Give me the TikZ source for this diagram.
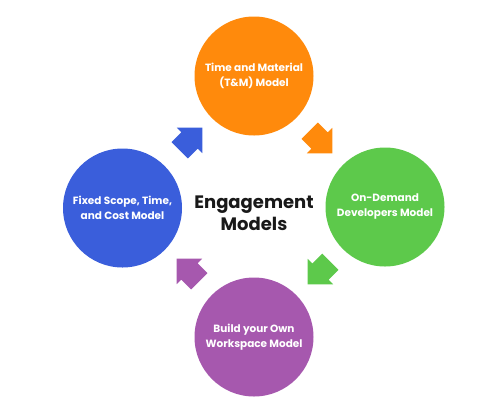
\documentclass[tikz,border=0pt]{standalone}
\usepackage{fontspec}
\setmainfont{Poppins}
\definecolor{cOrange}{HTML}{FF8A0C}
\definecolor{cGreen}{HTML}{5DC94B}
\definecolor{cBlue}{HTML}{3A5EDB}
\definecolor{cPurple}{HTML}{A658AE}
\newcommand\blockarr[4]{%
  \begin{scope}[shift={(#1,#2)},rotate=#3]
    \fill[#4] (-16,-11.5) -- (-2,-11.5) -- (-2,-18) -- (16,0) -- (-2,18) -- (-2,11.5) -- (-16,11.5) -- cycle;
  \end{scope}}
\begin{document}
\begin{tikzpicture}[x=1pt,y=-1pt,
  model/.style={circle,minimum size=119pt,inner sep=0pt,text=white,align=center,
    font=\fontsize{10.5}{15}\selectfont\bfseries},
  title/.style={align=center,font=\fontsize{18}{22}\selectfont\bfseries,text=black!90}]
\useasboundingbox (0,0) rectangle (500,400);
\node[model,fill=cOrange] (tm) at (254,76) {Time and Material\\(T\&M) Model};
\node[model,fill=cGreen] (od) at (385,207) {On-Demand\\Developers Model};
\node[model,fill=cPurple] (bw) at (254,337) {Build your Own\\Workspace Model};
\node[model,fill=cBlue] (fs) at (122.5,208) {Fixed Scope, Time,\\and Cost Model};
\node[title] (em) at (254,213) {Engagement\\Models};
\blockarr{321}{142}{-45}{cOrange}
\blockarr{319}{273}{-135}{cGreen}
\blockarr{188}{270}{135}{cPurple}
\blockarr{191}{139}{45}{cBlue}
\end{tikzpicture}
\end{document}
